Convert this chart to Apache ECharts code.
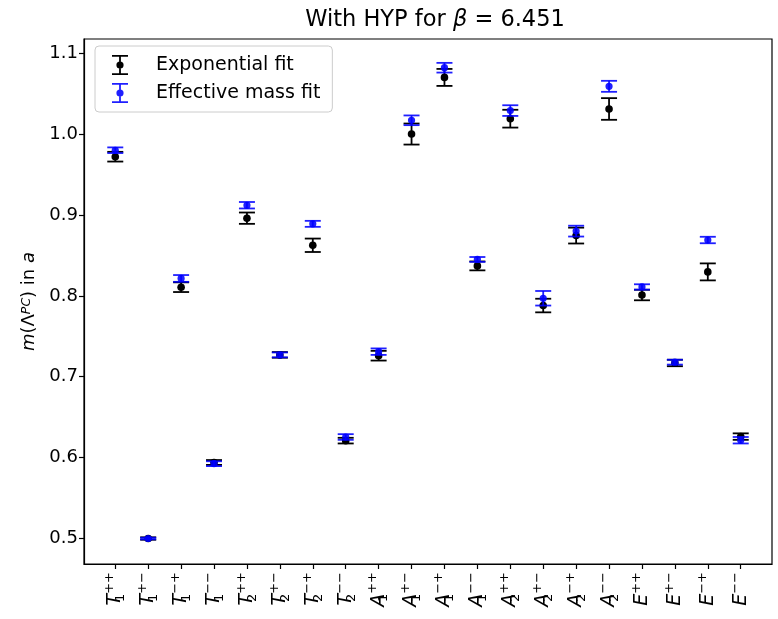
<!DOCTYPE html>
<html>
<head>
<meta charset="utf-8">
<script src="https://cdn.jsdelivr.net/npm/echarts@6/dist/echarts.min.js"></script>
<style>
  html, body { margin: 0; padding: 0; background: #fff; }
  #chart { width: 778px; height: 619px; }
</style>
</head>
<body>
<div id="chart"></div>
<script>
// Lattice channels: irrep letter, irrep index, PC quantum numbers
const irreps = ['T','T','T','T','T','T','T','T','A','A','A','A','A','A','A','A','E','E','E','E'];
const irrepIndex = ['1','1','1','1','2','2','2','2','1','1','1','1','2','2','2','2','','','',''];
const pcLabels = ['++','+\u2212','\u2212+','\u2212\u2212','++','+\u2212','\u2212+','\u2212\u2212',
                  '++','+\u2212','\u2212+','\u2212\u2212','++','+\u2212','\u2212+','\u2212\u2212',
                  '++','+\u2212','\u2212+','\u2212\u2212'];

// Masses from the exponential fit and their errors
const expMass = [0.972, 0.500, 0.8107, 0.594, 0.896, 0.727, 0.8625, 0.621, 0.726, 1.000,
                 1.070, 0.837, 1.019, 0.788, 0.8745, 1.031, 0.801, 0.717, 0.8296, 0.626];
const expErr  = [0.006, 0.0015, 0.006, 0.003, 0.007, 0.0035, 0.0083, 0.0035, 0.006, 0.013,
                 0.0105, 0.0055, 0.011, 0.0084, 0.0098, 0.0134, 0.0065, 0.004, 0.0105, 0.004];

// Masses from the effective mass plateau fit and their errors
const effMass = [0.980, 0.500, 0.8215, 0.5925, 0.912, 0.727, 0.889, 0.6255, 0.731, 1.017,
                 1.082, 0.845, 1.029, 0.797, 0.880, 1.059, 0.811, 0.718, 0.869, 0.6215];
const effErr  = [0.0035, 0.001, 0.0042, 0.003, 0.004, 0.003, 0.0037, 0.0035, 0.004, 0.006,
                 0.006, 0.003, 0.0066, 0.009, 0.0067, 0.0068, 0.0033, 0.003, 0.004, 0.004];

const yTicks = [0.5, 0.6, 0.7, 0.8, 0.9, 1.0, 1.1];

const FONT = 'DejaVu Sans';
const positions = irreps.map((_, i) => i);

function errorBarRenderer(color, capHalf, radius, lw) {
  return function (params, api) {
    const x = api.value(0), y = api.value(1), e = api.value(2);
    const c = api.coord([x, y]);
    const hi = api.coord([x, y + e]);
    const lo = api.coord([x, y - e]);
    const ls = { stroke: color, lineWidth: lw };
    return {
      type: 'group',
      children: [
        { type: 'line', shape: { x1: c[0], y1: hi[1], x2: c[0], y2: lo[1] }, style: ls },
        { type: 'line', shape: { x1: c[0] - capHalf, y1: hi[1], x2: c[0] + capHalf, y2: hi[1] }, style: ls },
        { type: 'line', shape: { x1: c[0] - capHalf, y1: lo[1], x2: c[0] + capHalf, y2: lo[1] }, style: ls },
        { type: 'circle', shape: { cx: c[0], cy: c[1], r: radius }, style: { fill: color } }
      ]
    };
  };
}

// error-bar legend glyph: two caps, a stem and a dot
const errIcon = 'path://M0 0H16V1.8H0Z M7.1 0H8.9V20H7.1Z M0 18.2H16V20H0Z M4.4 10A3.6 3.6 0 1 1 11.6 10A3.6 3.6 0 1 1 4.4 10Z';

const BLACK = '#000000';
const BLUE = 'rgba(0,0,255,0.88)';

const chart = echarts.init(document.getElementById('chart'), null, { renderer: 'canvas' });

chart.setOption({
  animation: false,
  backgroundColor: '#ffffff',
  title: {
    text: 'With HYP for {i|\u03b2} = 6.451',
    left: 430,
    textAlign: 'center',
    top: 4,
    textStyle: {
      fontFamily: FONT, fontSize: 22.5, fontWeight: 'normal', color: '#000',
      rich: { i: { fontFamily: FONT, fontSize: 22.5, fontStyle: 'italic', color: '#000' } }
    }
  },
  grid: {
    left: 84, right: 6, top: 39, bottom: 55,
    show: true, borderColor: '#000', borderWidth: 1.2, backgroundColor: 'transparent'
  },
  legend: {
    orient: 'vertical',
    left: 95, top: 46,
    itemWidth: 20, itemHeight: 20, itemGap: 8,
    padding: [9, 12, 9, 17],
    backgroundColor: 'rgba(255,255,255,0.8)',
    borderColor: '#cccccc', borderWidth: 1, borderRadius: 4,
    textStyle: { fontFamily: FONT, fontSize: 19, color: '#000', padding: [0, 0, 0, 21] },
    data: [
      { name: 'Exponential fit', icon: errIcon },
      { name: 'Effective mass fit', icon: errIcon }
    ]
  },
  xAxis: {
    type: 'value',
    min: -0.95, max: 19.95,
    splitLine: { show: false },
    axisLine: { show: true, onZero: false, lineStyle: { color: '#000', width: 1.2 } },
    axisTick: { show: true, length: 5, customValues: positions, lineStyle: { color: '#000', width: 1.2 } },
    axisLabel: {
      customValues: positions,
      rotate: 90,
      margin: 8,
      color: '#000',
      formatter: function (v) {
        const i = Math.round(v);
        const sub = irrepIndex[i] ? '{sub|' + irrepIndex[i] + '}' : '';
        return '{b|' + irreps[i] + '}' + sub + '{sup|' + pcLabels[i] + '}';
      },
      rich: {
        b: { fontFamily: FONT, fontSize: 19, fontStyle: 'italic', color: '#000', lineHeight: 24 },
        sub: { fontFamily: FONT, fontSize: 13, color: '#000', lineHeight: 12, verticalAlign: 'bottom', width: 0 },
        sup: { fontFamily: FONT, fontSize: 13, color: '#000', lineHeight: 14, verticalAlign: 'top' }
      }
    }
  },
  yAxis: {
    type: 'value',
    min: 0.4685, max: 1.1175,
    splitLine: { show: false },
    axisLine: { show: true, onZero: false, lineStyle: { color: '#000', width: 1.2 } },
    axisTick: { show: true, length: 5, customValues: yTicks, lineStyle: { color: '#000', width: 1.2 } },
    axisLabel: {
      customValues: yTicks,
      margin: 6,
      fontFamily: FONT, fontSize: 18, color: '#000',
      formatter: v => v.toFixed(1)
    },
    name: '{i|m}(\u039b{s|PC}) in {i|a}',
    nameLocation: 'middle',
    nameGap: 46,
    nameTextStyle: {
      fontFamily: FONT, fontSize: 18, color: '#000',
      rich: {
        i: { fontFamily: FONT, fontSize: 18, fontStyle: 'italic', color: '#000' },
        s: { fontFamily: FONT, fontSize: 12.5, fontStyle: 'italic', color: '#000', verticalAlign: 'top', lineHeight: 10 }
      }
    }
  },
  series: [
    {
      name: 'Exponential fit',
      type: 'custom',
      itemStyle: { color: BLACK },
      encode: { x: 0, y: 1 },
      data: positions.map(i => [i, expMass[i], expErr[i]]),
      renderItem: errorBarRenderer(BLACK, 8, 3.8, 1.8),
      z: 2
    },
    {
      name: 'Effective mass fit',
      type: 'custom',
      itemStyle: { color: BLUE },
      encode: { x: 0, y: 1 },
      data: positions.map(i => [i, effMass[i], effErr[i]]),
      renderItem: errorBarRenderer(BLUE, 8, 3.6, 1.8),
      z: 3
    }
  ]
});
</script>
</body>
</html>
